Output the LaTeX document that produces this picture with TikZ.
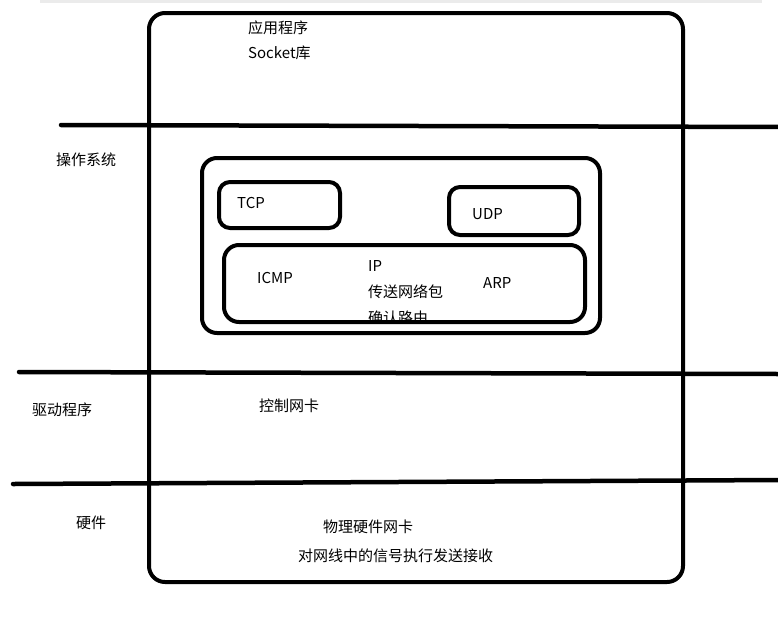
\documentclass[tikz,border=0pt]{standalone}
\usepackage{fontspec}
\setmainfont{Noto Sans CJK SC}
\begin{document}
\begin{tikzpicture}[x=1pt,y=-1pt,
  thick box/.style={draw=black,line width=4pt,rounded corners=#1},
  thick box/.default=15pt,
  layer line/.style={draw=black,line width=4.5pt,line cap=round},
  lbl/.style={anchor=west,inner sep=0pt,font=\fontsize{15}{18}\selectfont}]
\useasboundingbox (0,0) rectangle (778,619);
\fill[black!8] (40,0) rectangle (762,3);
% layer lines
\coordinate (l1a) at (61,125); \coordinate (l1b) at (780,127);
\coordinate (l2a) at (19,372); \coordinate (l2b) at (780,374);
\coordinate (l3a) at (13,484); \coordinate (l3b) at (780,480);
\draw[layer line] (l1a) -- (l1b);
\draw[layer line] (l2a) -- (l2b);
\draw[layer line] (l3a) -- (l3b);
% boxes
\draw[thick box=16pt] (149,13) rectangle (683,582);
\draw[thick box=15pt] (202,158) rectangle (600,333);
\draw[thick box=11pt] (219,182) rectangle (340,228);
\draw[thick box=11pt] (449,187) rectangle (579,235);
\draw[thick box=15pt] (224,245) rectangle (585,322);
% texts
\node[lbl] (app) at (248,28) {应用程序};
\node[lbl] (sock) at (248,53) {Socket库};
\node[lbl] (os) at (56,160) {操作系统};
\node[lbl] (tcp) at (237,203) {TCP};
\node[lbl] (udp) at (472,214) {UDP};
\node[lbl] (icmp) at (257,278) {ICMP};
\node[lbl] (ip) at (368,266) {IP};
\node[lbl] (send) at (368,292) {传送网络包};
\node[lbl] (arp) at (483,283) {ARP};
\begin{scope}
\clip (300,300) rectangle (460,322);
\node[lbl] (route) at (368,318) {确认路由};
\end{scope}
\node[lbl] (drv) at (32,410) {驱动程序};
\node[lbl] (nic) at (259,406) {控制网卡};
\node[lbl] (hw) at (76,523) {硬件};
\node[lbl] (phy) at (323,527) {物理硬件网卡};
\node[lbl] (sig) at (298,556) {对网线中的信号执行发送接收};
\end{tikzpicture}
\end{document}
